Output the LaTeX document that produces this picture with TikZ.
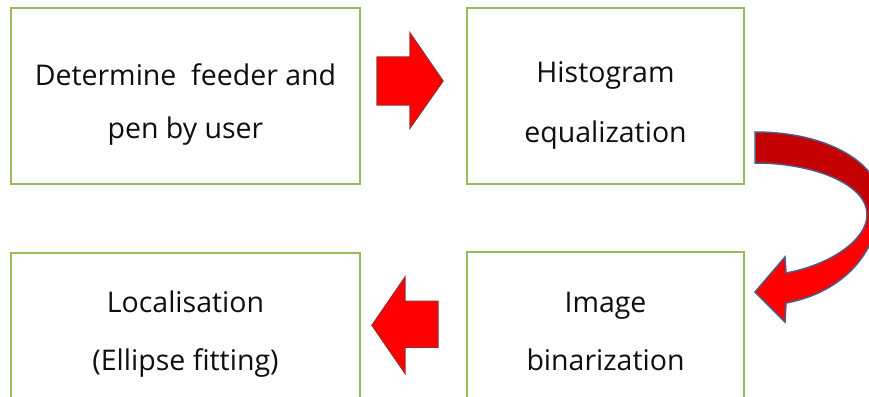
\documentclass[tikz,border=0pt]{standalone}
\usepackage{fontspec}
\setmainfont{Open Sans}
\usetikzlibrary{calc}
\definecolor{boxgreen}{RGB}{155,187,89}
\definecolor{arrred}{RGB}{255,0,0}
\definecolor{arredge}{RGB}{168,40,40}
\definecolor{curvdark}{RGB}{196,0,0}
\definecolor{curvedge}{RGB}{80,90,130}
\definecolor{txt}{RGB}{15,15,15}
\pgfdeclareverticalshading{curvshade}{100bp}{color(0bp)=(arrred); color(49bp)=(arrred); color(56bp)=(curvdark); color(100bp)=(curvdark)}
\begin{document}
\begin{tikzpicture}[x=1pt,y=-1pt,
  stepbox/.style={draw=boxgreen, line width=2pt, fill=white, inner sep=0pt,
    align=center, anchor=base, text=txt, font=\fontsize{28.5}{#1}\selectfont},
  blockarrow/.style={fill=arrred, draw=arredge, line width=1.3pt, line join=miter},
  curvarrow/.style={shading=curvshade, draw=curvedge, line width=1.5pt, line join=miter}]
\useasboundingbox (0,0) rectangle (869,396);
\clip (0,0) rectangle (869,396);

% anchor=base is the baseline of the last text line
\node[stepbox=53, minimum width=349pt, text height=130pt, text depth=46pt] (feed) at (185.5,138) {Determine~~feeder and\\pen by user};
\node[stepbox=60, minimum width=277pt, text height=134pt, text depth=42pt] (hist) at (605.5,142) {Histogram\\equalization};
\node[stepbox=58, minimum width=277pt, text height=118pt, text depth=42pt] (bin) at (605.5,370) {Image\\binarization};
\node[stepbox=58, minimum width=349pt, text height=117pt, text depth=42pt] (loc) at (185.5,370) {Localisation\\(Ellipse fitting)};

% straight block arrows between the boxes
\coordinate (r1) at ($(feed.east)!0.5!(hist.west)+(-3.5,-15)$);
\path[blockarrow, shift={(r1)}] (-33,-24) -- (0,-24) -- (0,-48) -- (33,0) -- (0,47) -- (0,24) -- (-33,24) -- cycle;
\coordinate (l1) at ($(loc.east)!0.5!(bin.west)+(-8.5,-7)$);
\path[blockarrow, shift={(l1)}] (33,-24) -- (0,-24) -- (0,-48) -- (-33,0) -- (0,48) -- (0,22) -- (33,22) -- cycle;

% curved arrow from Histogram equalization to Image binarization
\path[curvarrow] (755,132) .. controls (830,132) and (880,165) .. (880,200)
  .. controls (880,250) and (845,292) .. (786,303) -- (785,322) -- (755,292) -- (785,257) -- (786,273)
  .. controls (830,265) and (867,240) .. (867,215)
  .. controls (868,185) and (815,163) .. (755,163) -- cycle;
\end{tikzpicture}
\end{document}
